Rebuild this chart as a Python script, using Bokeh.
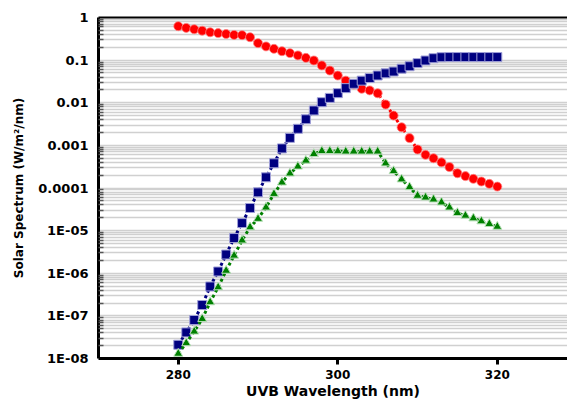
from bokeh.plotting import figure
from bokeh.models import Range1d, FixedTicker, CustomJSTickFormatter, LinearAxis
from bokeh.embed import file_html
from bokeh.resources import INLINE

wavelength = list(range(280, 321))

red_values = [0.625, 0.57, 0.53, 0.49, 0.45, 0.43, 0.41, 0.39, 0.385, 0.345,
              0.25, 0.21, 0.184, 0.162, 0.146, 0.129, 0.113, 0.098, 0.075, 0.057,
              0.0435, 0.033, 0.0267, 0.0213, 0.0195, 0.0167, 0.0091, 0.005, 0.00266, 0.00148,
              0.0008, 0.0006, 0.0005, 0.0004, 0.00031, 0.000222, 0.00019, 0.000164, 0.000142, 0.000125,
              0.000108]

blue_values = [2.1e-8, 4.1e-8, 8e-8, 1.8e-7, 4.9e-7, 1.1e-6, 2.75e-6, 6.7e-6, 1.5e-5, 3.4e-5,
               7.9e-5, 1.78e-4, 3.8e-4, 8.5e-4, 0.0015, 0.00245, 0.0041, 0.0066, 0.0103, 0.013,
               0.0168, 0.022, 0.0278, 0.033, 0.038, 0.0436, 0.049, 0.054, 0.063, 0.072,
               0.085, 0.098, 0.111, 0.117, 0.118, 0.118, 0.118, 0.118, 0.118, 0.118,
               0.118]

green_values = [1.3e-8, 2.3e-8, 4.3e-8, 8.5e-8, 2.1e-7, 4.7e-7, 1.15e-6, 2.6e-6, 5.9e-6, 1.2e-5,
                1.9e-5, 3.5e-5, 7.3e-5, 1.35e-4, 2.2e-4, 3.2e-4, 4.4e-4, 6.3e-4, 7.4e-4, 7.4e-4,
                7.3e-4, 7.2e-4, 7.2e-4, 7.2e-4, 7.2e-4, 7.2e-4, 3.8e-4, 2.5e-4, 1.6e-4, 1.05e-4,
                6.6e-5, 6.0e-5, 5.4e-5, 4.6e-5, 3.5e-5, 2.6e-5, 2.25e-5, 1.95e-5, 1.66e-5, 1.44e-5,
                1.24e-5]

x_ticks = [280, 300, 320]
y_tick_values = [1e-8, 1e-7, 1e-6, 1e-5, 1e-4, 1e-3, 1e-2, 1e-1, 1.0]
y_tick_labels = ["1E-08", "1E-07", "1E-06", "1E-05", "0.0001", "0.001", "0.01", "0.1", "1"]
y_minor_ticks = [k * 10.0 ** e for e in range(-8, 0) for k in range(2, 10)]

x_title = "UVB Wavelength (nm)"
y_title = "Solar Spectrum (W/m\u00b2/nm)"

FONT = "DejaVu Sans"

p = figure(width=567, height=401, y_axis_type="log",
           x_range=Range1d(270, 328.8), y_range=Range1d(1e-8, 1),
           output_backend="svg", toolbar_location=None,
           min_border_left=98, min_border_right=0, min_border_top=17, min_border_bottom=43)
p.outline_line_color = None
p.background_fill_color = "white"

# x axis (bottom)
xa = p.below[0]
xa.ticker = FixedTicker(ticks=x_ticks, minor_ticks=[])
xa.axis_line_width = 3
xa.axis_line_color = "black"
xa.major_tick_line_width = 3
xa.major_tick_line_color = "black"
xa.major_tick_out = 6
xa.major_tick_in = 0
xa.minor_tick_out = 0
xa.major_label_standoff = 5
xa.major_label_text_font = FONT
xa.major_label_text_font_style = "bold"
xa.major_label_text_font_size = "12px"
xa.major_label_text_color = "black"
xa.axis_label = x_title
xa.axis_label_text_font = FONT
xa.axis_label_text_font_style = "bold"
xa.axis_label_text_font_size = "14px"
xa.axis_label_text_color = "black"
xa.axis_label_standoff = 1
p.xgrid.visible = False

# top border line
top_axis = LinearAxis(ticker=FixedTicker(ticks=[], minor_ticks=[]), axis_line_width=2,
                      axis_line_color="black",
                      major_tick_in=0, major_tick_out=0, minor_tick_in=0, minor_tick_out=0,
                      major_label_standoff=0, major_label_text_font_size="0px")
p.add_layout(top_axis, "above")

# y axis
yt = FixedTicker(ticks=y_tick_values, minor_ticks=y_minor_ticks)
ya = p.left[0]
ya.ticker = yt
p.ygrid.ticker = yt
ya.formatter = CustomJSTickFormatter(args=dict(values=y_tick_values, labels=y_tick_labels), code="""
for (let i = 0; i < values.length; i++) {
  if (Math.abs(Math.log10(tick) - Math.log10(values[i])) < 1e-6) return labels[i];
}
return '';
""")
ya.axis_line_width = 3
ya.axis_line_color = "black"
ya.major_tick_in = 0
ya.major_tick_out = 0
ya.minor_tick_in = 5
ya.minor_tick_out = 0
ya.minor_tick_line_color = "#555555"
ya.minor_tick_line_width = 1.5
ya.major_label_standoff = 10
ya.major_label_text_font = FONT
ya.major_label_text_font_style = "bold"
ya.major_label_text_font_size = "13px"
ya.major_label_text_color = "black"
ya.axis_label = y_title
ya.axis_label_text_font = FONT
ya.axis_label_text_font_style = "bold"
ya.axis_label_text_font_size = "12px"
ya.axis_label_text_color = "black"
ya.axis_label_standoff = 9
p.ygrid.grid_line_color = "#d0d0d0"
p.ygrid.grid_line_width = 1.5
p.ygrid.minor_grid_line_color = "#d0d0d0"
p.ygrid.minor_grid_line_width = 1.5

# series
p.line(wavelength, red_values, line_color="#ff0000", line_width=3, line_dash="3 3")
p.scatter(wavelength, red_values, marker="circle", size=9, fill_color="#ff0000",
          line_color="#ff8080", line_width=0.8)

p.line(wavelength, blue_values, line_color="#000080", line_width=3, line_dash="3 3")
p.scatter(wavelength, blue_values, marker="square", size=9, fill_color="#000080",
          line_color="#a0a0d8", line_width=1)

p.line(wavelength, green_values, line_color="#008000", line_width=3, line_dash="3 3")
p.scatter(wavelength, green_values, marker="triangle", size=9, fill_color="#008000",
          line_color="#b8e0b8", line_width=1)

open("out.html", "w").write(file_html(p, INLINE))
